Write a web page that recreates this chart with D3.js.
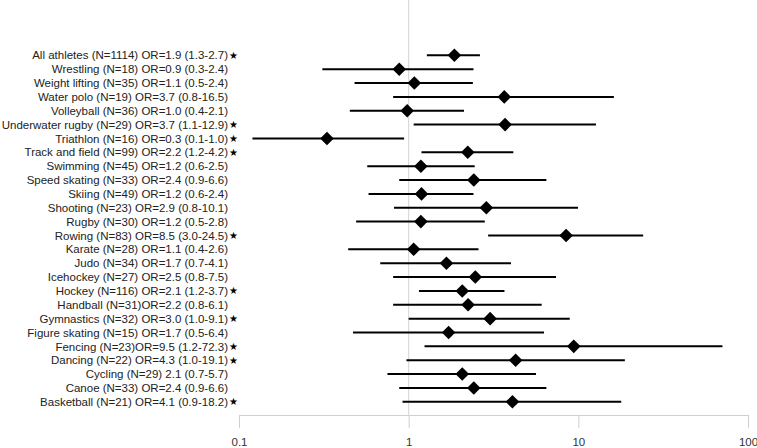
<!DOCTYPE html>
<html>
<head>
<meta charset="utf-8">
<script src="https://cdn.jsdelivr.net/npm/d3@7"></script>
<style>
  body { margin: 0; background: #fff; }
  svg { display: block; font-family: "Liberation Sans", Arial, Helvetica, sans-serif; }
</style>
</head>
<body>
<div id="chart"></div>
<script>
// ---- Data ----
const labels = [
  'All athletes (N=1114) OR=1.9 (1.3-2.7)',
  'Wrestling (N=18) OR=0.9 (0.3-2.4)',
  'Weight lifting (N=35) OR=1.1 (0.5-2.4)',
  'Water polo (N=19) OR=3.7 (0.8-16.5)',
  'Volleyball (N=36) OR=1.0 (0.4-2.1)',
  'Underwater rugby (N=29) OR=3.7 (1.1-12.9)',
  'Triathlon (N=16) OR=0.3 (0.1-1.0)',
  'Track and field (N=99) OR=2.2 (1.2-4.2)',
  'Swimming (N=45) OR=1.2 (0.6-2.5)',
  'Speed skating (N=33) OR=2.4 (0.9-6.6)',
  'Skiing (N=49) OR=1.2 (0.6-2.4)',
  'Shooting (N=23) OR=2.9 (0.8-10.1)',
  'Rugby (N=30) OR=1.2 (0.5-2.8)',
  'Rowing (N=83) OR=8.5 (3.0-24.5)',
  'Karate (N=28) OR=1.1 (0.4-2.6)',
  'Judo (N=34) OR=1.7 (0.7-4.1)',
  'Icehockey (N=27) OR=2.5 (0.8-7.5)',
  'Hockey (N=116) OR=2.1 (1.2-3.7)',
  'Handball (N=31)OR=2.2 (0.8-6.1)',
  'Gymnastics (N=32) OR=3.0 (1.0-9.1)',
  'Figure skating (N=15) OR=1.7 (0.5-6.4)',
  'Fencing (N=23)OR=9.5 (1.2-72.3)',
  'Dancing (N=22) OR=4.3 (1.0-19.1)',
  'Cycling (N=29) 2.1 (0.7-5.7)',
  'Canoe (N=33) OR=2.4 (0.9-6.6)',
  'Basketball (N=21) OR=4.1 (0.9-18.2)'
];
const oddsRatio = [1.86, 0.88, 1.08, 3.66, 0.98, 3.70, 0.33, 2.23, 1.18, 2.42, 1.19, 2.87, 1.18, 8.47, 1.07, 1.67, 2.47, 2.07, 2.24, 3.02, 1.72, 9.40, 4.27, 2.07, 2.42, 4.09];
const ciLow     = [1.28, 0.31, 0.48, 0.81, 0.45, 1.07, 0.12, 1.19, 0.57, 0.88, 0.58, 0.82, 0.49, 2.94, 0.44, 0.68, 0.81, 1.15, 0.81, 1.00, 0.47, 1.24, 0.97, 0.75, 0.88, 0.92];
const ciHigh    = [2.63, 2.41, 2.39, 16.2, 2.12, 12.7, 0.94, 4.14, 2.45, 6.48, 2.41, 9.96, 2.81, 24.1, 2.58, 4.01, 7.39, 3.67, 6.08, 8.90, 6.28, 70.7, 18.8, 5.63, 6.48, 17.9];
const starred   = [1, 0, 0, 0, 0, 1, 1, 1, 0, 0, 0, 0, 0, 1, 0, 0, 0, 1, 0, 1, 0, 1, 1, 0, 0, 1];
const tickValues = [0.1, 1, 10, 100];
const tickLabels = ['0.1', '1', '10', '100'];

const width = 757, height = 448;
const axisY = 415;

const svg = d3.select('#chart').append('svg')
  .attr('width', width).attr('height', height);

// ---- Scales ----
const x = d3.scaleLog().domain([0.1, 100]).range([239, 748]);
const y = d3.scalePoint().domain(d3.range(labels.length)).range([55.3, 401.8]);

// ---- Reference line at OR = 1 ----
svg.append('line')
  .attr('x1', x(1)).attr('x2', x(1))
  .attr('y1', 0).attr('y2', axisY)
  .attr('stroke', '#d4d4d4').attr('stroke-width', 1);

// ---- Axis ----
svg.append('g')
  .attr('transform', `translate(0,${axisY})`)
  .call(d3.axisBottom(x).tickValues(tickValues).tickFormat((d, i) => tickLabels[i])
    .tickSizeInner(13).tickSizeOuter(0).tickPadding(10))
  .call(g => g.select('.domain').attr('stroke', '#cfcfcf'))
  .call(g => g.selectAll('.tick line').attr('stroke', '#cfcfcf'))
  .call(g => g.selectAll('.tick text')
    .attr('fill', '#333').attr('font-size', '11.5px')
    .attr('font-family', '"Liberation Sans", Arial, sans-serif'));

// ---- CI lines ----
svg.append('g').selectAll('line')
  .data(d3.range(labels.length)).join('line')
  .attr('x1', i => x(ciLow[i])).attr('x2', i => x(ciHigh[i]))
  .attr('y1', i => y(i)).attr('y2', i => y(i))
  .attr('stroke', '#000').attr('stroke-width', 2);

// ---- Diamonds ----
const diamond = d3.symbol().type(d3.symbolSquare).size(92);
svg.append('g').selectAll('path')
  .data(d3.range(labels.length)).join('path')
  .attr('d', diamond)
  .attr('transform', i => `translate(${x(oddsRatio[i])},${y(i)}) rotate(45)`)
  .attr('fill', '#000');

// ---- Row labels ----
svg.append('g').selectAll('text')
  .data(labels).join('text')
  .attr('x', 228)
  .attr('y', (_, i) => y(i))
  .attr('dy', '0.36em')
  .attr('text-anchor', 'end')
  .attr('font-size', '11.5px')
  .attr('fill', '#222')
  .text(d => d);

// ---- Significance stars ----
svg.append('g').selectAll('text')
  .data(d3.range(labels.length).filter(i => starred[i])).join('text')
  .attr('x', 233.5)
  .attr('y', i => y(i))
  .attr('dy', '0.35em')
  .attr('text-anchor', 'middle')
  .attr('font-family', '"DejaVu Sans", sans-serif')
  .attr('font-size', '10px')
  .attr('fill', '#000')
  .text('★');
</script>
</body>
</html>
